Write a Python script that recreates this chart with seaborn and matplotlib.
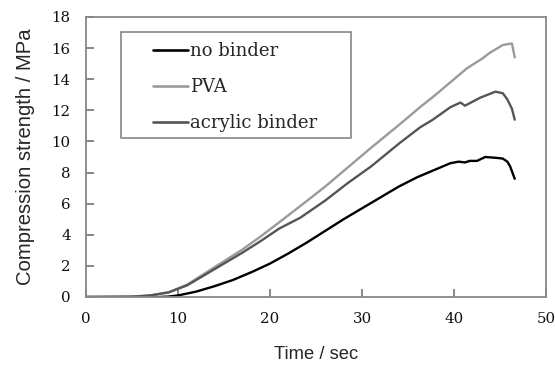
import numpy as np
import pandas as pd
import matplotlib
matplotlib.use("Agg")
import matplotlib.pyplot as plt
import seaborn as sns
from matplotlib.patches import Rectangle
from matplotlib.lines import Line2D

# ---- data ----
t_none = [0, 8, 9, 10, 12, 14, 16, 18, 20, 22, 24, 26, 28, 30, 32, 34, 36, 38,
          39.6, 40.5, 41.2, 41.7, 42.5, 43.4, 44.5, 45.3, 45.8, 46.1, 46.6]
s_none = [0, 0, 0.03, 0.1, 0.35, 0.7, 1.1, 1.6, 2.15, 2.8, 3.5, 4.25, 5.0, 5.7,
          6.4, 7.1, 7.7, 8.2, 8.6, 8.7, 8.65, 8.75, 8.75, 9.0, 8.95, 8.9, 8.7, 8.4, 7.6]

t_pva = [0, 5, 7, 9, 11, 13, 15, 17, 19, 21, 23.3, 26, 28.4, 31, 34.1, 36.3, 38,
         40, 41.4, 43, 43.9, 45.3, 46.3, 46.6]
s_pva = [0, 0.02, 0.1, 0.3, 0.8, 1.55, 2.3, 3.05, 3.9, 4.8, 5.85, 7.1, 8.3, 9.6,
         11.1, 12.2, 13.0, 14.0, 14.7, 15.3, 15.7, 16.2, 16.3, 15.4]

t_acr = [0, 5, 7, 9, 11, 13, 15, 17, 19, 21, 23.3, 26, 28.4, 31, 34.1, 36.3, 37.7,
         39.6, 40.7, 41.2, 42.8, 44.5, 45.3, 45.8, 46.3, 46.6]
s_acr = [0, 0.02, 0.1, 0.3, 0.75, 1.45, 2.15, 2.85, 3.6, 4.4, 5.1, 6.2, 7.3, 8.4,
         9.9, 10.9, 11.4, 12.2, 12.5, 12.3, 12.8, 13.2, 13.1, 12.7, 12.1, 11.4]

labels = ["no binder", "PVA", "acrylic binder"]
colors = ["#000000", "#9a9a9a", "#555555"]

df = pd.concat([
    pd.DataFrame({"Time": t_none, "Strength": s_none, "Sample": labels[0]}),
    pd.DataFrame({"Time": t_pva, "Strength": s_pva, "Sample": labels[1]}),
    pd.DataFrame({"Time": t_acr, "Strength": s_acr, "Sample": labels[2]}),
])

sns.set_style("ticks")
plt.rcParams["font.family"] = ["DejaVu Serif"]

fig = plt.figure(figsize=(5.55, 3.72), dpi=100)
ax = fig.add_axes([86/555, 1-297/372, 460/555, 280/372])

sns.lineplot(data=df, x="Time", y="Strength", hue="Sample", hue_order=labels,
             palette=dict(zip(labels, colors)), linewidth=1.7, ax=ax,
             legend=False, sort=False)

ax.set_xlim(0, 50)
ax.set_ylim(0, 18)
ax.set_xticks([0, 10, 20, 30, 40, 50])
ax.set_yticks(np.arange(0, 19, 2))
for s in ax.spines.values():
    s.set_color("#888888")
    s.set_linewidth(1.3)
ax.tick_params(axis="both", direction="in", length=6, width=1.1, color="#666666",
               labelsize=10.8, pad=11, labelcolor="#111111",
               left=True, bottom=True, top=False, right=False)

ax.set_xlabel("Time / sec", family="Liberation Sans", fontsize=13.2, labelpad=14)
ax.set_ylabel("Compression strength / MPa", family="Liberation Sans", fontsize=14.6,
              labelpad=12)

# legend with a separately drawn box
handles = [Line2D([], [], color=c, lw=1.9) for c in colors]
leg = ax.legend(handles, labels, loc="upper left",
                bbox_to_anchor=((153-86)/460, (297-42)/280),
                frameon=False, fontsize=13, handlelength=1.95, handletextpad=0.1,
                labelspacing=1.0, borderpad=0, borderaxespad=0)
ax.add_patch(Rectangle(((121-86)/460, (297-138)/280), 230/460, 106/280,
                       transform=ax.transAxes, fill=False, edgecolor="#888888",
                       linewidth=1.2, zorder=5))

fig.savefig("out.png", dpi=100)
